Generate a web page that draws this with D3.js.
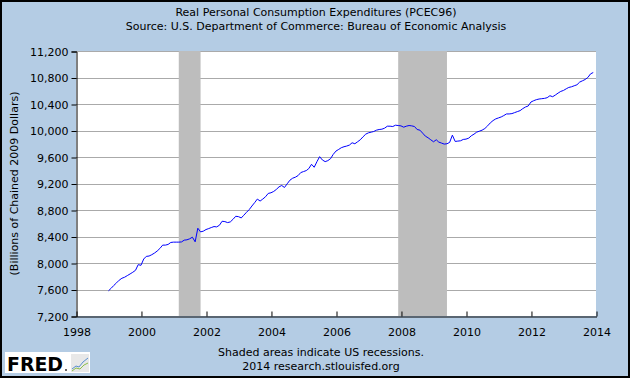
<!DOCTYPE html>
<html>
<head>
<meta charset="utf-8">
<script src="https://cdn.jsdelivr.net/npm/d3@7"></script>
<style>
  html, body { margin: 0; padding: 0; background: #b4cce4; }
  svg { display: block; }
  text { font-family: "DejaVu Sans", Verdana, sans-serif; fill: #000; }
</style>
</head>
<body>
<svg id="chart" width="630" height="378"></svg>
<script>
// ---- data ----
const titleLines = ["Real Personal Consumption Expenditures (PCEC96)",
                    "Source: U.S. Department of Commerce: Bureau of Economic Analysis"];
const yAxisTitle = "(Billions of Chained 2009 Dollars)";
const footerLines = ["Shaded areas indicate US recessions.", "2014 research.stlouisfed.org"];
const firstMonth = "1999-01";
// monthly values, Jan 1999 .. Dec 2013
const values = [
  7580, 7620, 7660, 7700, 7740, 7770, 7785, 7810, 7835, 7860, 7890, 7975,          // 1999
  7965, 8060, 8100, 8105, 8125, 8150, 8180, 8220, 8270, 8270, 8280, 8310,          // 2000
  8315, 8315, 8315, 8318, 8345, 8350, 8365, 8390, 8320, 8525, 8470, 8480,          // 2001
  8505, 8520, 8535, 8550, 8545, 8570, 8630, 8625, 8610, 8620, 8660, 8705,          // 2002
  8700, 8680, 8720, 8765, 8805, 8860, 8910, 8965, 8935, 8965, 9000, 9050,          // 2003
  9060, 9080, 9110, 9150, 9170, 9140, 9195, 9250, 9280, 9295, 9320, 9365,          // 2004
  9380, 9395, 9425, 9490, 9445, 9530, 9605, 9555, 9530, 9545, 9575, 9640,          // 2005
  9690, 9715, 9740, 9755, 9765, 9780, 9815, 9800, 9830, 9860, 9905, 9945,          // 2006
  9965, 9975, 9985, 10005, 10015, 10020, 10035, 10065, 10065, 10060, 10080, 10075, // 2007
  10070, 10050, 10065, 10075, 10070, 10060, 10015, 10005, 9960, 9915, 9890, 9860,  // 2008
  9830, 9860, 9825, 9810, 9795, 9800, 9820, 9930, 9835, 9840, 9845, 9865,          // 2009
  9870, 9885, 9920, 9945, 9975, 9990, 10005, 10030, 10070, 10115, 10150, 10175,    // 2010
  10190, 10205, 10225, 10250, 10250, 10255, 10270, 10285, 10300, 10330, 10355, 10370, // 2011
  10430, 10450, 10465, 10475, 10480, 10485, 10495, 10525, 10510, 10535, 10565, 10590, // 2012
  10605, 10630, 10650, 10660, 10675, 10690, 10730, 10750, 10770, 10800, 10855, 10875  // 2013
];
const recessions = [["2001-03-01", "2001-11-01"], ["2007-12-01", "2009-06-01"]];
const yTicks = [7200, 7600, 8000, 8400, 8800, 9200, 9600, 10000, 10400, 10800, 11200];
const xTickYears = [1998, 2000, 2002, 2004, 2006, 2008, 2010, 2012, 2014];

// ---- layout ----
const W = 630, H = 378;
const plot = { left: 76, right: 596, top: 51, bottom: 316 };
const parse = d3.timeParse("%Y-%m-%d");
const start = parse(firstMonth + "-01");
const series = values.map((v, i) => ({ date: d3.timeMonth.offset(start, i), value: v }));

const x = d3.scaleTime()
  .domain([new Date(1998, 0, 1), new Date(2014, 0, 1)])
  .range([plot.left, plot.right]);
const y = d3.scaleLinear()
  .domain([7200, 11200])
  .range([plot.bottom, plot.top]);

const svg = d3.select("#chart");

// background + border
svg.append("rect").attr("x", 1).attr("y", 1).attr("width", W - 2).attr("height", H - 2)
  .attr("fill", "#b4cce4").attr("stroke", "#000").attr("stroke-width", 2);

// plot background
svg.append("rect").attr("x", plot.left).attr("y", plot.top)
  .attr("width", plot.right - plot.left).attr("height", plot.bottom - plot.top)
  .attr("fill", "#fff");

// gridlines
svg.append("g").selectAll("line").data(yTicks.filter(t => t !== 7200)).join("line")
  .attr("x1", plot.left).attr("x2", plot.right)
  .attr("y1", d => Math.round(y(d)) + 0.5).attr("y2", d => Math.round(y(d)) + 0.5)
  .attr("stroke", "#aaaaaa").attr("stroke-width", 1);

// recessions
svg.append("g").selectAll("rect").data(recessions).join("rect")
  .attr("x", d => x(parse(d[0])))
  .attr("width", d => x(parse(d[1])) - x(parse(d[0])))
  .attr("y", plot.top).attr("height", plot.bottom - plot.top)
  .attr("fill", "#bdbdbd");

// line
const line = d3.line().x(d => x(d.date)).y(d => y(d.value));
svg.append("path").datum(series).attr("d", line)
  .attr("fill", "none").attr("stroke", "#0000ff").attr("stroke-width", 1);

// y axis
const yAxis = d3.axisLeft(y).tickValues(yTicks).tickFormat(d3.format(",")).tickSize(5).tickPadding(3);
const gy = svg.append("g").attr("transform", `translate(${plot.left + 0.5},0.5)`).call(yAxis);
gy.select(".domain").attr("stroke", "#000");
gy.selectAll(".tick line").attr("stroke", "#000");
gy.selectAll("text").attr("font-size", 11).attr("font-family", "DejaVu Sans, Verdana, sans-serif");

// x axis (ticks pointing up into plot)
const xAxis = d3.axisBottom(x)
  .tickValues(xTickYears.map(yr => new Date(yr, 0, 1)))
  .tickFormat(d3.timeFormat("%Y")).tickSizeInner(-5).tickSizeOuter(0).tickPadding(12);
const gx = svg.append("g").attr("transform", `translate(0.5,${plot.bottom + 0.5})`).call(xAxis);
gx.select(".domain").attr("stroke", "#000");
gx.selectAll(".tick line").attr("stroke", "#000");
gx.selectAll("text").attr("font-size", 11).attr("font-family", "DejaVu Sans, Verdana, sans-serif");

// titles
svg.append("g").selectAll("text").data(titleLines).join("text")
  .attr("x", 316).attr("y", (d, i) => 16 + i * 14)
  .attr("text-anchor", "middle").attr("font-size", 11).text(d => d);

svg.append("text")
  .attr("transform", `translate(18,${(plot.top + plot.bottom) / 2}) rotate(-90)`)
  .attr("text-anchor", "middle").attr("font-size", 11).text(yAxisTitle);

// footer
svg.append("g").selectAll("text").data(footerLines).join("text")
  .attr("x", 321).attr("y", (d, i) => 356 + i * 14)
  .attr("text-anchor", "middle").attr("font-size", 11).text(d => d);

// FRED logo
const logo = svg.append("g");
logo.append("rect").attr("x", 5).attr("y", 352).attr("width", 85).attr("height", 21).attr("fill", "#fff");
logo.append("text").attr("x", 7).attr("y", 371).attr("font-size", 20).attr("font-weight", "bold")
  .attr("font-family", "DejaVu Sans, sans-serif").attr("textLength", 56).attr("lengthAdjust", "spacingAndGlyphs")
  .attr("fill", "#1a1a1a").text("FRED");
logo.append("circle").attr("cx", 66).attr("cy", 370).attr("r", 1).attr("fill", "#333");
logo.append("rect").attr("x", 71).attr("y", 354).attr("width", 18).attr("height", 18).attr("fill", "#e8e8e8");
logo.append("polyline").attr("points", "72,369 76,366 79,367 83,362 88,358")
  .attr("fill", "none").attr("stroke", "#5a8fd0").attr("stroke-width", 1);
logo.append("polyline").attr("points", "72,371 76,368 80,369 84,365 88,363")
  .attr("fill", "none").attr("stroke", "#8cbf4a").attr("stroke-width", 1);
</script>
</body>
</html>
